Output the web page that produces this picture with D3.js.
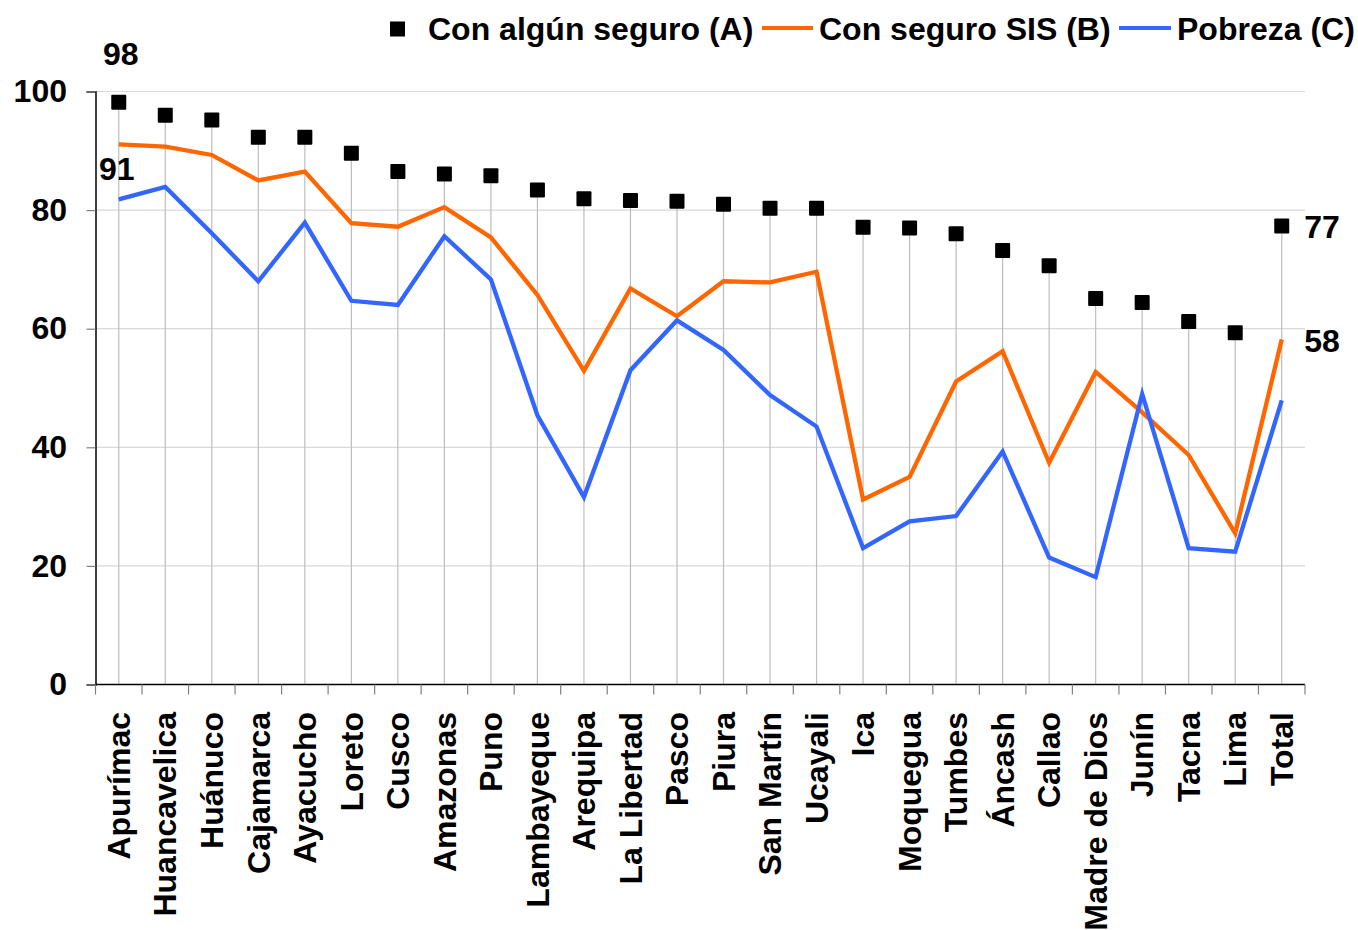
<!DOCTYPE html>
<html>
<head>
<meta charset="utf-8">
<script src="https://cdn.jsdelivr.net/npm/d3@7"></script>
<style>
  html, body { margin: 0; padding: 0; background: #ffffff; }
  svg text { font-family: "Liberation Sans", Arial, sans-serif; font-weight: bold; fill: #000; }
</style>
</head>
<body>
<svg id="chart" width="1358" height="930"></svg>
<script>
const categories = ["Apurímac","Huancavelica","Huánuco","Cajamarca","Ayacucho","Loreto","Cusco","Amazonas","Puno","Lambayeque","Arequipa","La Libertad","Pasco","Piura","San Martín","Ucayali","Ica","Moquegua","Tumbes","Áncash","Callao","Madre de Dios","Junín","Tacna","Lima","Total"];
const seriesA = [98.2,96.0,95.2,92.3,92.3,89.6,86.5,86.1,85.8,83.4,81.9,81.6,81.5,81.0,80.3,80.3,77.1,77.0,76.0,73.2,70.6,65.1,64.4,61.2,59.3,77.3];
const seriesB = [91.1,90.7,89.3,85.0,86.5,77.8,77.2,80.5,75.4,65.7,52.9,66.8,62.1,68.0,67.8,69.6,31.2,35.0,51.1,56.2,37.4,52.7,45.9,38.7,25.5,58.2];
const seriesC = [81.8,83.9,76.1,68.0,77.9,64.7,64.0,75.6,68.3,45.4,31.6,53.0,61.4,56.4,48.8,43.5,23.0,27.5,28.4,39.3,21.4,18.1,49.0,23.0,22.4,47.9];
const yTicks = [0,20,40,60,80,100];
const legendLabels = ["Con algún seguro (A)","Con seguro SIS (B)","Pobreza (C)"];

const svg = d3.select("#chart");
const FS = 32;
const plotLeft = 95.5, plotRight = 1305, plotTop = 91.5, plotBottom = 684.5;

const x = d3.scaleBand().domain(categories).range([plotLeft, plotRight]).padding(0);
const y = d3.scaleLinear().domain([0, 100]).range([plotBottom, plotTop]);
const cx = c => x(c) + x.bandwidth() / 2;

// horizontal gridlines
svg.append("g").selectAll("line").data(yTicks.filter(t => t > 0)).join("line")
  .attr("x1", plotLeft).attr("x2", plotRight)
  .attr("y1", d => y(d)).attr("y2", d => y(d))
  .attr("stroke", "#d9d9d9").attr("stroke-width", 1.2);

// drop lines
svg.append("g").selectAll("line").data(categories).join("line")
  .attr("x1", d => cx(d)).attr("x2", d => cx(d))
  .attr("y1", (d, i) => y(seriesA[i])).attr("y2", plotBottom)
  .attr("stroke", "#bdbdbd").attr("stroke-width", 1.2);

// y axis
const yAxis = svg.append("g").attr("transform", `translate(${plotLeft},0)`)
  .call(d3.axisLeft(y).tickValues(yTicks).tickSize(9).tickPadding(19.5).tickFormat(d3.format("d")));
yAxis.select(".domain").attr("stroke", "#000").attr("stroke-width", 1.5);
yAxis.selectAll(".tick line").attr("stroke", "#808080").attr("stroke-width", 1.2);
yAxis.selectAll("text").style("font-size", FS + "px").attr("dy", "0.32em");

// x axis
const xAxis = svg.append("g").attr("transform", `translate(0,${plotBottom})`)
  .call(d3.axisBottom(x).tickSize(0).tickPadding(0));
xAxis.select(".domain").remove();
xAxis.selectAll("text")
  .style("font-size", FS + "px")
  .attr("text-anchor", "end")
  .attr("transform", "rotate(-90)")
  .attr("x", -27.5).attr("y", 0).attr("dy", "0.35em");
xAxis.append("line").attr("x1", plotLeft).attr("x2", plotRight).attr("y1", 0).attr("y2", 0)
  .attr("stroke", "#000").attr("stroke-width", 1.5);
xAxis.append("g").selectAll("line").data(d3.range(categories.length + 1)).join("line")
  .attr("x1", i => plotLeft + i * x.step()).attr("x2", i => plotLeft + i * x.step())
  .attr("y1", 0).attr("y2", 10)
  .attr("stroke", "#808080").attr("stroke-width", 1.2);

// lines
const line = d3.line().x((d, i) => cx(categories[i])).y(d => y(d));
svg.append("path").datum(seriesB).attr("d", line)
  .attr("fill", "none").attr("stroke", "#FF6600").attr("stroke-width", 4.3).attr("stroke-linejoin", "miter");
svg.append("path").datum(seriesC).attr("d", line)
  .attr("fill", "none").attr("stroke", "#3366FF").attr("stroke-width", 4.3).attr("stroke-linejoin", "miter");

// markers
const ms = 15;
svg.append("g").selectAll("rect").data(seriesA).join("rect")
  .attr("x", (d, i) => cx(categories[i]) - ms / 2)
  .attr("y", d => y(d) - ms / 2)
  .attr("width", ms).attr("height", ms)
  .attr("fill", "#000").attr("rx", 1);

// data labels
const fmt = d3.format(".0f");
const labels = svg.append("g").style("font-size", FS + "px");
labels.append("text").attr("x", cx(categories[0]) + 2).attr("y", y(seriesA[0]) - 37)
  .attr("text-anchor", "middle").text(fmt(seriesA[0]));
labels.append("text").attr("x", cx(categories[0]) - 2).attr("y", y(seriesB[0]) + 35.5)
  .attr("text-anchor", "middle").text(fmt(seriesB[0]));
const last = categories.length - 1;
labels.append("text").attr("x", cx(categories[last]) + 22.5).attr("y", y(seriesA[last]) + 11.7)
  .attr("text-anchor", "start").text(fmt(seriesA[last]));
labels.append("text").attr("x", cx(categories[last]) + 22.5).attr("y", y(seriesB[last]) + 12.7)
  .attr("text-anchor", "start").text(fmt(seriesB[last]));

// legend
const lg = svg.append("g").style("font-size", FS + "px");
lg.append("rect").attr("x", 390).attr("y", 21.5).attr("width", 15).attr("height", 15).attr("fill", "#000");
lg.append("text").attr("x", 428).attr("y", 40).text(legendLabels[0]);
lg.append("line").attr("x1", 762).attr("x2", 813).attr("y1", 28).attr("y2", 28)
  .attr("stroke", "#FF6600").attr("stroke-width", 4);
lg.append("text").attr("x", 819).attr("y", 40).text(legendLabels[1]);
lg.append("line").attr("x1", 1119).attr("x2", 1171).attr("y1", 28).attr("y2", 28)
  .attr("stroke", "#3366FF").attr("stroke-width", 4);
lg.append("text").attr("x", 1177).attr("y", 40).text(legendLabels[2]);
</script>
</body>
</html>
